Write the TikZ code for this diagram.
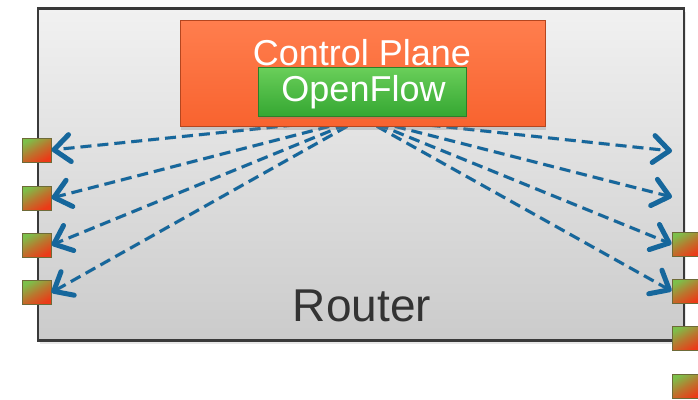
\documentclass[tikz,border=0pt]{standalone}
\usepackage{fontspec}
\setmainfont{Liberation Sans}
\usetikzlibrary{arrows.meta,shadows}

\definecolor{flowblue}{HTML}{16679C}
\definecolor{routertop}{HTML}{F1F1F1}
\definecolor{routerbot}{HTML}{CBCBCB}
\definecolor{routerline}{HTML}{3A3A3A}
\definecolor{cptop}{HTML}{FF7E4E}
\definecolor{cpbot}{HTML}{F8632F}
\definecolor{cpedge}{HTML}{B5461F}
\definecolor{oftop}{HTML}{6ACF5A}
\definecolor{ofbot}{HTML}{35A732}
\definecolor{ofedge}{HTML}{2C7F2A}
\definecolor{portgreen}{HTML}{7DBF4A}
\definecolor{portred}{HTML}{EC3A17}
\definecolor{portedge}{HTML}{6E6A38}

\tikzset{
  routerbox/.style={draw=routerline, line width=2.2pt, top color=routertop,
    bottom color=routerbot, inner sep=0pt,
    drop shadow={opacity=0.18, shadow xshift=2pt, shadow yshift=-3pt}},
  cpbox/.style={draw=cpedge, line width=1pt, top color=cptop, bottom color=cpbot,
    inner sep=0pt,
    drop shadow={opacity=0.3, shadow xshift=1pt, shadow yshift=-4pt}},
  ofbox/.style={draw=ofedge, line width=1pt, top color=oftop, bottom color=ofbot,
    inner sep=0pt,
    drop shadow={opacity=0.3, shadow xshift=1pt, shadow yshift=-3pt}},
  port/.style={draw=portedge, line width=1pt, minimum width=29pt,
    minimum height=24pt, inner sep=0pt, top color=portgreen,
    bottom color=portred, middle color=portred!55!portgreen, shading angle=30},
  flow/.style={draw=flowblue, line width=3pt, dash pattern=on 11pt off 6pt,
    -{Straight Barb[length=16pt,width=27pt,line width=5pt,round]}},
  flowshadow/.style={draw=black, opacity=0.12, line width=3.5pt,
    dash pattern=on 11pt off 6pt, shift={(1.5,3)}},
  label/.style={anchor=base, inner sep=0pt},
}

\begin{document}
\begin{tikzpicture}[x=1pt,y=-1pt]
\useasboundingbox (0,0) rectangle (698,399);

% router chassis
\node[routerbox, minimum width=646pt, minimum height=332pt] (router) at (361,174.5) {};
\node[label, text=black!80, font=\fontsize{46}{50}\selectfont] (routerlabel) at (362,321) {Router};

% ports on both sides
\node[port] (lp1) at (36.5,150) {};
\node[port] (lp2) at (36.5,198) {};
\node[port] (lp3) at (36.5,245) {};
\node[port] (lp4) at (36.5,292.5) {};
\node[port] (rp3) at (686.5,244) {};
\node[port] (rp4) at (686.5,291) {};
\node[port] (rp5) at (686.5,338) {};
\node[port] (rp6) at (686.5,386) {};

% hub under the control plane and free ends on the right
\coordinate (hub) at (362,118);
\coordinate (re1) at (672,151);
\coordinate (re2) at (672,197);

% soft shadows of the flows
\foreach \t in {lp1.east,lp2.east,lp3.east,lp4.east,re1,re2,rp3.west,rp4.west}
  \draw[flowshadow] (hub) -- (\t);

% flows from the control plane to the ports
\draw[flow] (hub) -- (lp1.east);
\draw[flow] (hub) -- (lp2.east);
\draw[flow] (hub) -- (lp3.east);
\draw[flow] (hub) -- (lp4.east);
\draw[flow] (hub) -- (re1);
\draw[flow] (hub) -- (re2);
\draw[flow] (hub) -- (rp3.west);
\draw[flow] (hub) -- (rp4.west);

% control plane with the OpenFlow agent
\node[cpbox, minimum width=365pt, minimum height=106pt] (cp) at (362.5,73) {};
\node[label, text=white, font=\fontsize{36}{40}\selectfont] (cplabel) at (362,65) {Control Plane};
\node[ofbox, minimum width=208pt, minimum height=49pt] (of) at (362,91.5) {};
\node[label, text=white, font=\fontsize{36}{40}\selectfont] (oflabel) at (363.5,101.7) {OpenFlow};
\end{tikzpicture}
\end{document}
